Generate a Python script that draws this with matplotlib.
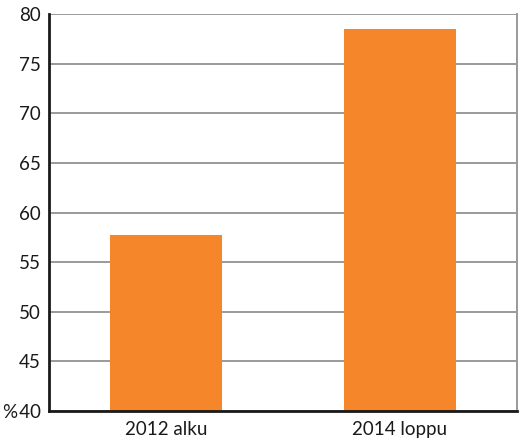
import matplotlib
matplotlib.use("Agg")
import matplotlib.pyplot as plt

categories = ["2012 alku", "2014 loppu"]
values = [57.7, 78.5]
yticks = [40, 45, 50, 55, 60, 65, 70, 75, 80]
ytick_labels = ["%\u200a40", "45", "50", "55", "60", "65", "70", "75", "80"]

plt.rcParams['font.family'] = ['Lato', 'DejaVu Sans']

fig = plt.figure(figsize=(5.31, 4.43), dpi=100)
ax = fig.add_axes([49/531, 32/443, (517-49)/531, (411-14)/443])

x = list(range(len(categories)))
ax.bar(x, [v - 40 for v in values], bottom=40, width=0.48, color="#F5862A", zorder=3)

ax.set_ylim(40, 80)
ax.set_xlim(-0.5, 1.5)
ax.set_yticks(yticks)
ax.set_yticklabels(ytick_labels)
ax.set_xticks(x)
ax.set_xticklabels(categories)
ax.tick_params(axis='both', length=0, labelsize=13.5, colors="#1a1a1a")
ax.tick_params(axis='y', pad=6)
ax.tick_params(axis='x', pad=7)

ax.yaxis.grid(True, color="#9a9a9a", linewidth=1.4, zorder=1)
ax.set_axisbelow(True)

ax.spines["top"].set_visible(False)
ax.spines["left"].set_color("#1a1a1a")
ax.spines["left"].set_linewidth(2)
ax.spines["bottom"].set_color("#1a1a1a")
ax.spines["bottom"].set_linewidth(2)
ax.spines["bottom"].set_zorder(4)
ax.spines["right"].set_color("#9a9a9a")
ax.spines["right"].set_linewidth(1.4)

fig.savefig("out.png", dpi=100)
